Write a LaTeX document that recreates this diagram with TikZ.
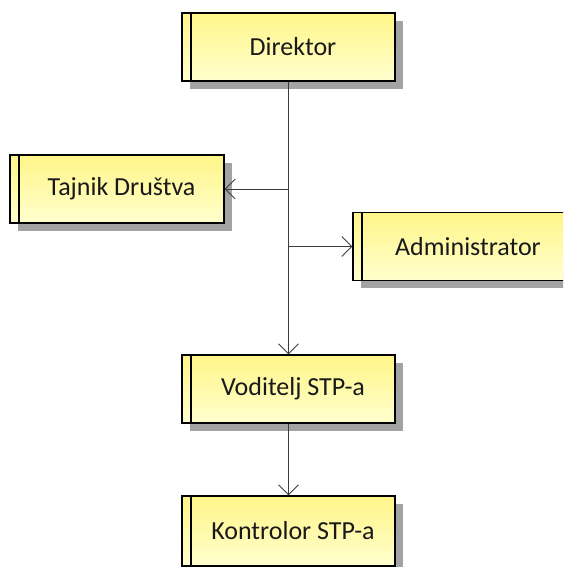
\documentclass[tikz,border=0pt]{standalone}
\usepackage{fontspec}
\setmainfont{Carlito}
\usetikzlibrary{arrows.meta,shadows}
\definecolor{boxtop}{HTML}{FFF588}
\definecolor{boxbot}{HTML}{FFFFCE}
\definecolor{shadowgray}{HTML}{A3A3A3}
\definecolor{linegray}{HTML}{3C3C3C}
\tikzset{
  unitbase/.style={draw=black, line width=1.3pt, top color=boxtop, bottom color=boxbot,
    minimum height=68pt, inner sep=0pt, text=black!90, font=\fontsize{26}{30}\selectfont,
    path picture={\draw[line width=1.3pt] ([xshift=9pt]path picture bounding box.north west) -- ([xshift=9pt]path picture bounding box.south west);}},
  unit/.style={unitbase, drop shadow={shadow xshift=8pt, shadow yshift=-8pt, fill=shadowgray, opacity=1}},
  conn/.style={draw=linegray, line width=0.8pt, -{Straight Barb[length=10pt,width=20pt,line width=0.8pt]}}
}
\begin{document}
\begin{tikzpicture}[x=1pt,y=1pt]
\useasboundingbox (0,0) rectangle (563,567);
\clip (0,0) rectangle (563,567);
\node[unit, minimum width=213pt] (dir) at (288.5,520) {\hspace{9pt}Direktor};
\node[unit, minimum width=214pt] (taj) at (117,378) {\hspace{9pt}Tajnik Društva};
\fill[shadowgray] (361,278.5) rectangle (580,294);
\node[unitbase, minimum width=240pt] (adm) at (473,320.5) {\hspace{-10pt}Administrator};
\node[unit, minimum width=213pt] (vod) at (288.5,178) {\hspace{9pt}Voditelj STP-a};
\node[unit, minimum width=213pt, minimum height=70pt] (kon) at (288.5,36) {\hspace{9pt}Kontrolor STP-a};
\coordinate (j1) at (dir.south |- taj.east);
\coordinate (j2) at (dir.south |- adm.west);
\draw[conn] (dir.south) -- (vod.north);
\draw[conn] (j1) -- (taj.east);
\draw[conn] (j2) -- (adm.west);
\draw[conn] (vod.south) -- (kon.north);
\end{tikzpicture}
\end{document}
